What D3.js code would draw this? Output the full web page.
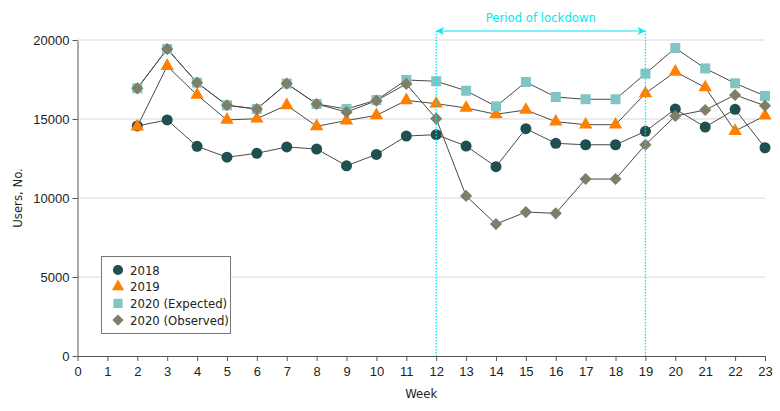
<!DOCTYPE html>
<html><head><meta charset="utf-8">
<script src="https://cdn.jsdelivr.net/npm/d3@7"></script>
<style>
html,body{margin:0;padding:0;background:#fff;}
svg{display:block;font-family:"DejaVu Sans Condensed","Liberation Sans Narrow","Liberation Sans",sans-serif;}
</style></head>
<body><svg id="c" width="780" height="411"></svg>
<script>
const weeks = [2,3,4,5,6,7,8,9,10,11,12,13,14,15,16,17,18,19,20,21,22,23];
const s2018 = [14560,14940,13270,12580,12830,13230,13100,12040,12760,13920,14010,13290,11980,14390,13460,13370,13370,14220,15630,14490,15610,13180];
const s2019 = [14520,18350,16520,14940,15020,15870,14540,14900,15230,16180,15970,15700,15300,15570,14830,14640,14640,16620,17990,17000,14240,15210];
const s2020exp = [16940,19430,17300,15870,15630,17240,15950,15630,16200,17470,17390,16790,15800,17340,16390,16250,16250,17870,19490,18200,17260,16460];
const s2020obs = [16940,19430,17300,15870,15630,17240,15950,15440,16160,17220,15020,10130,8350,9110,9030,11200,11200,13370,15190,15570,16520,15840];
const xTicks = d3.range(0,24);
const yTicks = [0,5000,10000,15000,20000];
const seriesNames = ["2018","2019","2020 (Expected)","2020 (Observed)"];
const lockdown = [12,19];
const annotationText = "Period of lockdown";

const series = [
  {name:seriesNames[0], values:s2018, color:"#1f4f4e", sym:d3.symbolCircle, size:95, rot:0},
  {name:seriesNames[1], values:s2019, color:"#ff7f00", sym:d3.symbolTriangle, size:78, rot:0},
  {name:seriesNames[2], values:s2020exp, color:"#80c4c4", sym:d3.symbolSquare, size:100, rot:0},
  {name:seriesNames[3], values:s2020obs, color:"#7f7e68", sym:d3.symbolSquare, size:74, rot:45}
];

const svg = d3.select("#c");
const x = d3.scaleLinear().domain([0,23]).range([77.5,765]);
const y = d3.scaleLinear().domain([0,20000]).range([356,40]);

// gridlines
svg.append("g").selectAll("line").data(yTicks.filter(d=>d>0)).join("line")
  .attr("x1",x(0)).attr("x2",x(23)).attr("y1",d=>y(d)).attr("y2",d=>y(d))
  .attr("stroke","#d9d9d9").attr("stroke-width",1.2);

// axes
const xAxis = svg.append("g").attr("transform",`translate(0,${y(0)})`)
  .call(d3.axisBottom(x).tickValues(xTicks).tickSize(5).tickSizeOuter(0).tickFormat(d3.format("d")));
const yAxis = svg.append("g").attr("transform",`translate(${x(0)},0)`)
  .call(d3.axisLeft(y).tickValues(yTicks).tickSize(5).tickSizeOuter(0).tickFormat(d=>d===0?"0":d3.format("d")(d)));
[xAxis,yAxis].forEach(a=>{
  a.selectAll("path,line").attr("stroke","#555");
  a.selectAll("text").attr("fill","#222").style("font-size","13px");
});
xAxis.selectAll("text").attr("dy","0.9em");

svg.append("text").attr("x",(x(0)+x(23))/2).attr("y",398).attr("text-anchor","middle")
  .style("font-size","13px").attr("fill","#222").text("Week");
svg.append("text").attr("transform",`translate(22,${y(10000)}) rotate(-90)`).attr("text-anchor","middle")
  .style("font-size","13px").attr("fill","#222").text("Users, No.");

// lines
const line = d3.line().x((d,i)=>x(weeks[i])).y(d=>y(d));
series.forEach(s=>{
  svg.append("path").datum(s.values).attr("d",line).attr("fill","none")
    .attr("stroke","#4a4a4a").attr("stroke-width",1);
});
// markers
series.forEach(s=>{
  svg.append("g").selectAll("path").data(s.values).join("path")
    .attr("transform",(d,i)=>`translate(${x(weeks[i])},${y(d)}) rotate(${s.rot})`)
    .attr("d",d3.symbol().type(s.sym).size(s.size)).attr("fill",s.color);
});

// lockdown lines
const cyan = "#00e8f0";
svg.append("g").selectAll("line").data(lockdown).join("line")
  .attr("x1",d=>x(d)).attr("x2",d=>x(d)).attr("y1",31).attr("y2",y(0))
  .attr("stroke",cyan).attr("stroke-width",1.3).attr("stroke-dasharray","1.5,1.5");
const defs = svg.append("defs");
defs.append("marker").attr("id","ah").attr("viewBox","0 0 10 10").attr("refX",10).attr("refY",5)
  .attr("markerWidth",9).attr("markerHeight",8).attr("orient","auto-start-reverse").attr("markerUnits","userSpaceOnUse")
  .append("path").attr("d","M0,0 L10,5 L0,10 L3,5 Z").attr("fill",cyan);
svg.append("line").attr("x1",x(lockdown[0])).attr("x2",x(lockdown[1])).attr("y1",31).attr("y2",31)
  .attr("stroke",cyan).attr("stroke-width",1).attr("marker-start","url(#ah)").attr("marker-end","url(#ah)");
svg.append("text").attr("x",(x(lockdown[0])+x(lockdown[1]))/2).attr("y",22).attr("text-anchor","middle")
  .style("font-size","13px").attr("fill",cyan).text(annotationText);

// legend
const lg = svg.append("g").attr("transform","translate(101,256)");
lg.append("rect").attr("x",0.5).attr("y",0.5).attr("width",129).attr("height",77)
  .attr("fill","#fff").attr("stroke","#777").attr("stroke-width",1);
series.forEach((s,i)=>{
  const yy = 14 + i*16.7;
  lg.append("path").attr("transform",`translate(17,${yy}) rotate(${s.rot})`)
    .attr("d",d3.symbol().type(s.sym).size(s.size*0.85)).attr("fill",s.color);
  lg.append("text").attr("x",29).attr("y",yy).attr("dy","0.35em")
    .style("font-size","13px").attr("fill","#222").text(s.name);
});
</script></body></html>
